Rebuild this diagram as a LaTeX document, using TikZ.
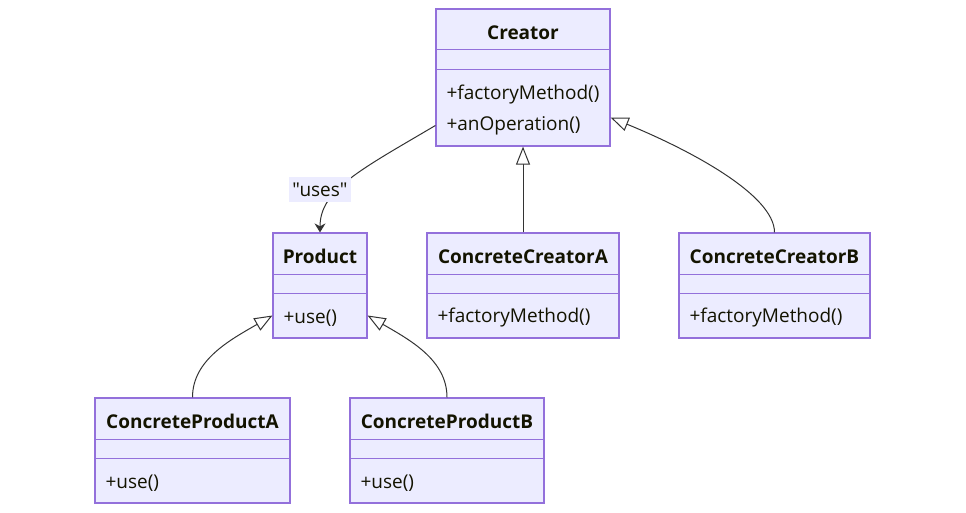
\documentclass[tikz,border=0pt]{standalone}
\usepackage{fontspec}
\setmainfont{Open Sans}[Ligatures=TeXOff]
\usetikzlibrary{arrows.meta}
\definecolor{classfill}{HTML}{ECECFF}
\definecolor{classline}{HTML}{9370DB}
\definecolor{edgeline}{HTML}{333333}
\definecolor{classtext}{HTML}{131300}
\begin{document}
\begin{tikzpicture}[x=1pt, y=-1pt, line width=1pt,
  classbox/.style={draw=classline, fill=classfill, line width=1.2pt, inner sep=0pt, minimum height=105pt},
  classtitle/.style={font=\fontsize{19}{23}\selectfont\bfseries, text=classtext, inner sep=0pt},
  member/.style={font=\fontsize{19}{23}\selectfont, text=classtext, inner sep=0pt, anchor=west},
  divider/.style={draw=classline},
  inherit/.style={draw=edgeline, -{Triangle[length=18pt, width=14pt, fill=white]}},
  uses/.style={draw=edgeline, -{Stealth[length=9pt, width=11pt]}},
  edgelabel/.style={fill=classfill, font=\fontsize{19}{23}\selectfont, text=classtext, inner xsep=3pt, inner ysep=0pt, minimum height=25pt}]
  \useasboundingbox (0,0) rectangle (966,513);
  % class boxes
  \node[classbox, minimum width=174pt, minimum height=137pt] (creator) at (523,77.5) {};
  \node[classbox, minimum width=94pt] (product) at (320,285.5) {};
  \node[classbox, minimum width=192pt] (cca) at (523,285.5) {};
  \node[classbox, minimum width=191pt] (ccb) at (774.5,285.5) {};
  \node[classbox, minimum width=195pt] (cpa) at (192.5,450.5) {};
  \node[classbox, minimum width=194pt] (cpb) at (447,450.5) {};
  % compartments
  \draw[divider] (creator.west |- 0,50) -- (creator.east |- 0,50);
  \draw[divider] (creator.west |- 0,70) -- (creator.east |- 0,70);
  \foreach \cls in {product, cca, ccb} {
    \draw[divider] (\cls.west |- 0,274) -- (\cls.east |- 0,274);
    \draw[divider] (\cls.west |- 0,293) -- (\cls.east |- 0,293);
  }
  \foreach \cls in {cpa, cpb} {
    \draw[divider] (\cls.west |- 0,439) -- (\cls.east |- 0,439);
    \draw[divider] (\cls.west |- 0,458) -- (\cls.east |- 0,458);
  }
  % titles
  \node[classtitle] (creatorT) at (523,33) {Creator};
  \node[classtitle] (productT) at (320,256.5) {Product};
  \node[classtitle] (ccaT) at (523,256.5) {ConcreteCreatorA};
  \node[classtitle] (ccbT) at (774.5,256.5) {ConcreteCreatorB};
  \node[classtitle] (cpaT) at (192.5,421.5) {ConcreteProductA};
  \node[classtitle] (cpbT) at (447,421.5) {ConcreteProductB};
  % members
  \node[member] (creatorM1) at (446,95) {+factoryMethod()};
  \node[member] (creatorM2) at (446,126) {+anOperation()};
  \node[member] (productM) at (283,318) {+use()};
  \node[member] (ccaM) at (437,318) {+factoryMethod()};
  \node[member] (ccbM) at (689,318) {+factoryMethod()};
  \node[member] (cpaM) at (105,483) {+use()};
  \node[member] (cpbM) at (360,483) {+use()};
  % relations
  \draw[uses] ([yshift=-48pt]creator.west) .. controls (360,170) and (320,190) .. (product.north);
  \node[edgelabel] (usesL) at (320,190) {"uses"};
  \draw[inherit] (cca.north) -- (creator.south);
  \draw[inherit] (ccb.north) .. controls (774.5,195) and (690,150) .. ([yshift=-40pt]creator.east);
  \draw[inherit] (cpa.north) .. controls (192.5,360) and (230,340) .. ([yshift=-30pt]product.west);
  \draw[inherit] (cpb.north) .. controls (447,360) and (410,340) .. ([yshift=-30pt]product.east);
\end{tikzpicture}
\end{document}
